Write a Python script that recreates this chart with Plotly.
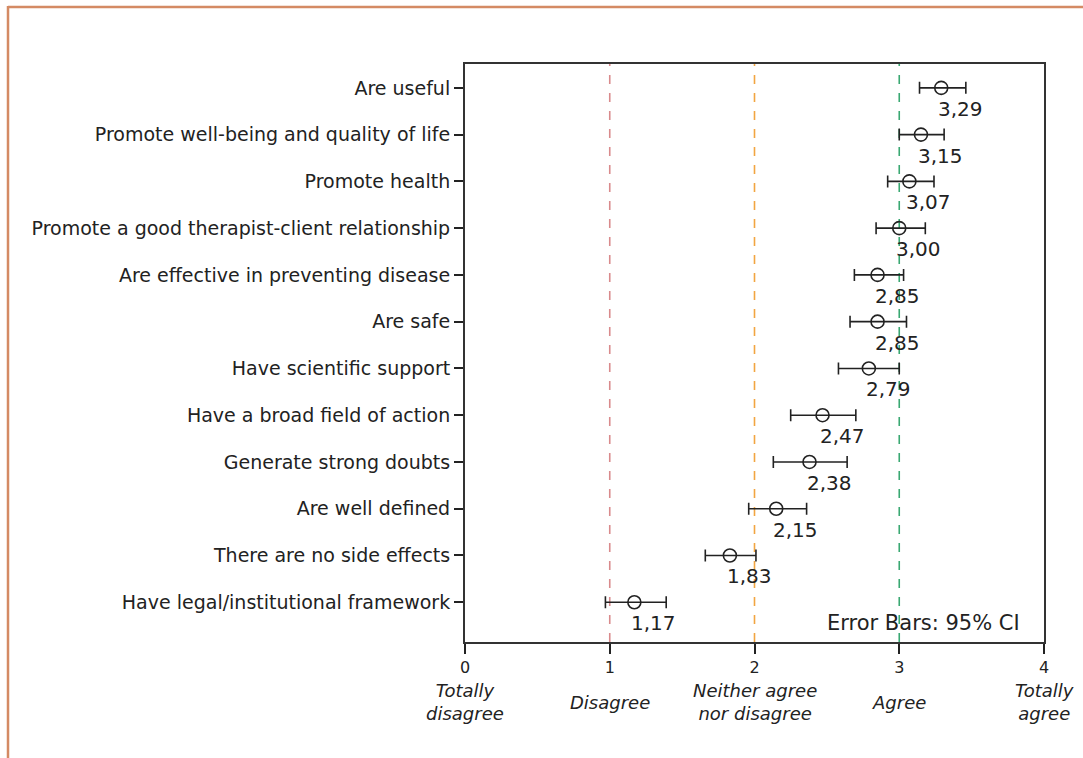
import plotly.graph_objects as go

categories = [
    "Are useful",
    "Promote well-being and quality of life",
    "Promote health",
    "Promote a good therapist-client relationship",
    "Are effective in preventing disease",
    "Are safe",
    "Have scientific support",
    "Have a broad field of action",
    "Generate strong doubts",
    "Are well defined",
    "There are no side effects",
    "Have legal/institutional framework",
]
means = [3.29, 3.15, 3.07, 3.00, 2.85, 2.85, 2.79, 2.47, 2.38, 2.15, 1.83, 1.17]
ci_low = [3.14, 3.00, 2.92, 2.84, 2.69, 2.66, 2.58, 2.25, 2.13, 1.96, 1.66, 0.97]
ci_high = [3.46, 3.31, 3.24, 3.18, 3.03, 3.05, 3.00, 2.70, 2.64, 2.36, 2.01, 1.39]
x_ticks = [0, 1, 2, 3, 4]
x_tick_labels = ["Totally<br>disagree", "Disagree", "Neither agree<br>nor disagree", "Agree", "Totally<br>agree"]
ref_lines = [1, 2, 3]
ref_colors = ["#d98a8c", "#f2a541", "#3aa872"]

FONT = "DejaVu Sans"
TXT = "#222222"

ypos = list(range(len(categories)))
err_plus = [h - m for h, m in zip(ci_high, means)]
err_minus = [m - l for m, l in zip(means, ci_low)]

fig = go.Figure()

for xv, col in zip(ref_lines, ref_colors):
    fig.add_shape(type="line", xref="x", yref="paper", x0=xv, x1=xv, y0=0, y1=1,
                  line=dict(color=col, width=1.6, dash="dash"), layer="below")

fig.add_trace(go.Scatter(
    x=means, y=ypos, mode="markers",
    marker=dict(symbol="circle-open", size=13, color="#222222", line=dict(width=1.6)),
    error_x=dict(type="data", symmetric=False, array=err_plus, arrayminus=err_minus,
                 color="#222222", thickness=1.6, width=6),
    showlegend=False, hoverinfo="skip",
))

for m, y in zip(means, ypos):
    fig.add_annotation(x=m, y=y, xref="x", yref="y", text=f"{m:.2f}".replace(".", ","),
                       showarrow=False, xanchor="left", yanchor="middle",
                       xshift=-5, yshift=-21,
                       font=dict(family=FONT, size=20, color=TXT))

# x category labels below ticks
for xv, lab in zip(x_ticks, x_tick_labels):
    fig.add_annotation(x=xv, y=-0.104, xref="x", yref="paper", text=f"<i>{lab}</i>",
                       showarrow=False, xanchor="center", yanchor="middle",
                       font=dict(family=FONT, size=18, color=TXT))

fig.add_annotation(x=0.962, y=0.033, xref="paper", yref="paper", text="Error Bars: 95% CI",
                   showarrow=False, xanchor="right", yanchor="middle",
                   font=dict(family=FONT, size=21, color=TXT))

# outer frame of figure (orange)
L, R, T, B = 465, 39, 64, 116
W, H = 1083 - L - R, 758 - T - B
def px(v):
    return (v - L) / W
def py(v):
    return (758 - B - v) / H
fig.add_shape(type="line", xref="paper", yref="paper", x0=px(8), x1=px(8), y0=py(6), y1=py(760),
              line=dict(color="#d48a64", width=2.5))
fig.add_shape(type="line", xref="paper", yref="paper", x0=px(8), x1=px(1090), y0=py(7), y1=py(7),
              line=dict(color="#d48a64", width=2.5))

fig.update_xaxes(range=[0, 4], tickvals=x_ticks, ticktext=[str(t) for t in x_ticks],
                 ticks="outside", ticklen=10, tickwidth=2, tickcolor="#222",
                 showline=True, linewidth=2, linecolor="#333", mirror=True,
                 showgrid=False, zeroline=False,
                 tickfont=dict(family=FONT, size=16, color=TXT))
fig.update_yaxes(range=[11.85, -0.51], tickvals=ypos, ticktext=categories,
                 ticks="outside", ticklen=9, tickwidth=2, tickcolor="#222",
                 showline=True, linewidth=2, linecolor="#333", mirror=True,
                 showgrid=False, zeroline=False,
                 tickfont=dict(family=FONT, size=19, color=TXT))

fig.update_layout(
    width=1083, height=758,
    margin=dict(l=L, r=R, t=T, b=B, autoexpand=False),
    paper_bgcolor="white", plot_bgcolor="white",
    font=dict(family=FONT, color=TXT),
)

fig.write_html("out.html")
